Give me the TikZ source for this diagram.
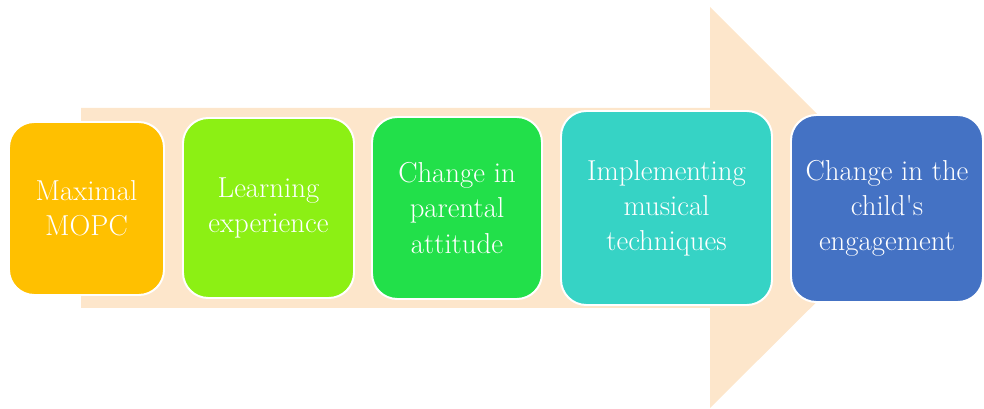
\documentclass[tikz,border=0pt]{standalone}
\usepackage{xcolor}
\usepackage{tikz}
\usetikzlibrary{positioning}

\definecolor{peach}{HTML}{FDE6CB}
\definecolor{amberbox}{HTML}{FFC000}
\definecolor{limebox}{HTML}{8CF014}
\definecolor{greenbox}{HTML}{22E04A}
\definecolor{tealbox}{HTML}{36D3C5}
\definecolor{bluebox}{HTML}{4472C4}

\begin{document}
\begin{tikzpicture}[
  bigarrow/.style={fill=peach, draw=none},
  stepbox/.style={rectangle, draw=white, line width=1.4pt, rounded corners=18pt, align=center, text=white, font=\fontsize{20.5}{25}\selectfont}
]
\useasboundingbox (0,0) rectangle (24.6,10.225);
% background arrow
\fill[bigarrow] (2.025,2.525) -- (17.75,2.525) -- (17.75,0.025) -- (22.775,5.025)
  -- (17.75,10.05) -- (17.75,7.525) -- (2.025,7.525) -- cycle;
% the five steps
\foreach \n/\x/\y/\w/\h/\c/\t in {
  1/2.1625/5.0125/3.875/4.325/amberbox/Maximal\\MOPC,
  2/6.7125/5.025/4.275/4.5/limebox/Learning\\experience,
  3/11.425/5.025/4.25/4.55/greenbox/Change in\\parental\\attitude,
  4/16.6625/5.025/5.275/4.85/tealbox/Implementing\\musical\\techniques,
  5/22.175/5.0125/4.8/4.675/bluebox/Change in the\\child\textquotesingle s\\engagement} {
  \node[stepbox, fill=\c, minimum width=\w cm, minimum height=\h cm] (s\n) at (\x,\y) {\t};
}
\end{tikzpicture}
\end{document}
